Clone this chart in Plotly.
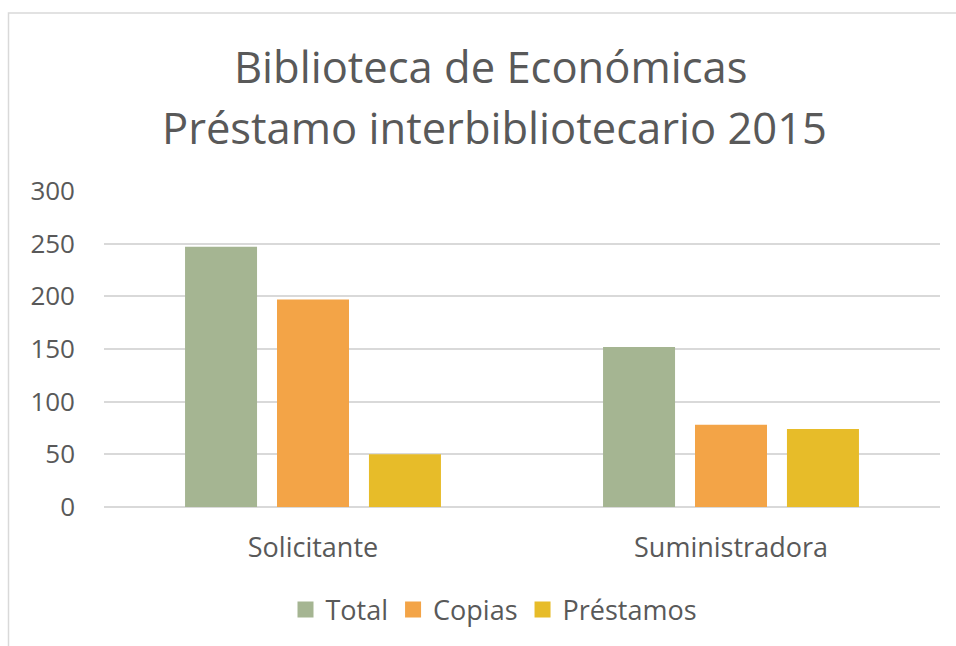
import plotly.graph_objects as go

categories = ["Solicitante", "Suministradora"]
series_names = ["Total", "Copias", "Préstamos"]
total = [247, 152]
copias = [197, 78]
prestamos = [50, 74]
colors = ["#A5B592", "#F3A447", "#E7BC29"]
title_lines = ["Biblioteca de Económicas", "Préstamo interbibliotecario 2015"]
y_ticks = [0, 50, 100, 150, 200, 250, 300]

FONT = "Open Sans"
TXT = "#595959"

W, H = 956, 646
L, R, T, B = 104, 16, 191, 139
PW, PH = W - L - R, H - T - B

def px_to_py(y):
    return (H - B - y) / PH

def px_to_px(x):
    return (x - L) / PW

fig = go.Figure()
for name, vals, col in zip(series_names, [total, copias, prestamos], colors):
    fig.add_trace(go.Bar(x=categories, y=vals, name=name, showlegend=False,
                         marker=dict(color=col, line=dict(width=0))))
# legend entries with square swatches
for name, col in zip(series_names, colors):
    fig.add_trace(go.Scatter(x=[None], y=[None], mode="markers", name=name,
                             marker=dict(symbol="square", size=16, color=col)))

fig.update_layout(
    width=W, height=H,
    margin=dict(l=L, r=R, t=T, b=B),
    paper_bgcolor="white", plot_bgcolor="white",
    barmode="group", bargap=0.34, bargroupgap=0.217,
    font=dict(family=FONT, color=TXT, size=26),
    showlegend=True,
    legend=dict(orientation="h", x=px_to_px(494), xanchor="center",
                y=px_to_py(610), yanchor="middle",
                font=dict(size=27, color=TXT, family=FONT),
                itemwidth=30, tracegroupgap=0),
    xaxis=dict(showgrid=False, showline=False, ticks="", ticklabelstandoff=22,
               tickfont=dict(size=27, color=TXT, family=FONT)),
    yaxis=dict(range=[0, 300], tickvals=y_ticks, showgrid=True, gridcolor="#d9d9d9",
               gridwidth=1.5, zeroline=True, zerolinecolor="#d9d9d9", zerolinewidth=1.5,
               showline=False, ticks="", ticklabelstandoff=28,
               tickfont=dict(size=26, color=TXT, family=FONT)),
)

ys = [67, 127]
xs = [490, 494]
for line, yy, xx in zip(title_lines, ys, xs):
    fig.add_annotation(text=line, xref="paper", yref="paper", x=px_to_px(xx), y=px_to_py(yy),
                       xanchor="center", yanchor="middle", showarrow=False,
                       font=dict(size=43.5, color=TXT, family=FONT))

fig.add_shape(type="rect", xref="paper", yref="paper",
              x0=px_to_px(8.5), x1=px_to_px(970), y0=px_to_py(13), y1=px_to_py(700),
              line=dict(color="#d9d9d9", width=1.5), fillcolor="rgba(0,0,0,0)", layer="below")

fig.write_html("out.html")
